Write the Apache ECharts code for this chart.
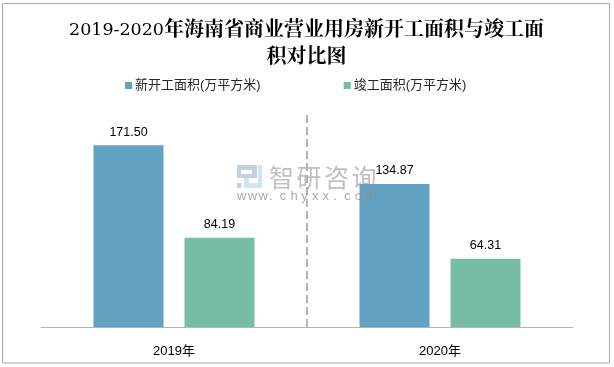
<!DOCTYPE html>
<html><head><meta charset="utf-8">
<style>html,body{margin:0;padding:0;background:#fff}#c{width:614px;height:367px}</style>
<script src="https://cdn.jsdelivr.net/npm/echarts@6/dist/echarts.min.js"></script>
</head><body><div id="c"></div>
<script>
const categories = ['2019年', '2020年'];
const startArea = [171.50, 134.87];
const finishArea = [84.19, 64.31];
const seriesNames = ['新开工面积(万平方米)', '竣工面积(万平方米)'];
const titleText = '{a|2019-2020}年海南省商业营业用房新开工面积与竣工面\n积对比图';
const colors = ['#62A2C2', '#76BDA5'];
const markDark = '#c5cfe2', markLight = '#cfe5f3';
const wmCn = ['智','研','咨','询'];
const wmEn = 'www.chyxx.com'.split('');
const chart = echarts.init(document.getElementById('c'), null, {renderer: 'canvas'});
const lab = {show: true, position: 'top', distance: 6.5, color: '#000', fontSize: 12.5, fontFamily: 'Liberation Sans', formatter: p => p.value.toFixed(2)};
const block = (x, y, width, height, fill) => ({type: 'rect', z: 100, silent: true, shape: {x, y, width, height}, style: {fill}});
chart.setOption({
  animation: false,
  backgroundColor: '#fff',
  title: {text: titleText, left: 301.5, top: 12, textAlign: 'center',
    textStyle: {fontFamily: '"Liberation Serif","Noto Serif CJK SC","Noto Sans CJK SC"', fontSize: 20, fontWeight: 'bold', color: '#000', lineHeight: 27, align: 'center',
      rich: {a: {fontFamily: '"DejaVu Serif"', fontSize: 17.5, fontWeight: 'normal', color: '#000', lineHeight: 27}}}},
  legend: {data: seriesNames, top: 74, left: 120, itemWidth: 7, itemHeight: 7, itemGap: 83, icon: 'rect',
    textStyle: {fontFamily: '"Liberation Sans","Noto Sans CJK SC"', fontSize: 13, color: '#262626', padding: [0, 0, 0, -2]}},
  grid: {left: 41, right: 41, top: 115, bottom: 40},
  xAxis: {type: 'category', data: categories,
    axisLine: {lineStyle: {color: '#b4b4b4', width: 1}}, axisTick: {show: false},
    axisLabel: {color: '#000', fontSize: 13, margin: 18, fontFamily: '"Liberation Sans","Noto Sans CJK SC"'},
    splitLine: {show: true, showMinLine: false, showMaxLine: false, lineStyle: {color: '#b4b4b4', type: 'dashed', width: 2}}},
  yAxis: {type: 'value', min: 0, max: 200, show: false, splitLine: {show: false}},
  series: [
    {name: seriesNames[0], type: 'bar', data: startArea, barWidth: 70, barGap: '30%', itemStyle: {color: colors[0]}, label: lab},
    {name: seriesNames[1], type: 'bar', data: finishArea, barWidth: 70, itemStyle: {color: colors[1]}, label: lab}
  ],
  graphic: [
    {type: 'rect', z: 100, silent: true, shape: {x: 2.5, y: 3.5, width: 607, height: 359.5}, style: {fill: 'none', stroke: '#a8a8a8', lineWidth: 1}},
    block(237, 165, 20, 5, markDark), block(252, 165, 5, 13, markDark), block(237, 174, 19, 4, markDark),
    block(237, 165, 4, 13, markDark), block(237, 183, 4, 5, markDark),
    block(258, 165, 4, 23, markLight), block(244, 183, 18, 5, markLight), block(244, 178, 5, 6, markLight),
    ...wmCn.map((t, i) => ({type: 'text', z: 100, silent: true, style: {text: t, x: 269 + i * 27.5, y: 165, font: '25px "Noto Sans CJK SC"', fill: 'rgba(150,150,150,0.6)'}})),
    ...wmEn.map((t, i) => ({type: 'text', z: 100, silent: true, style: {text: t, x: 237 + i * 10.7, y: 190, font: '13px "Liberation Sans"', fill: 'rgba(140,140,140,0.75)'}}))
  ]
});
</script></body></html>
